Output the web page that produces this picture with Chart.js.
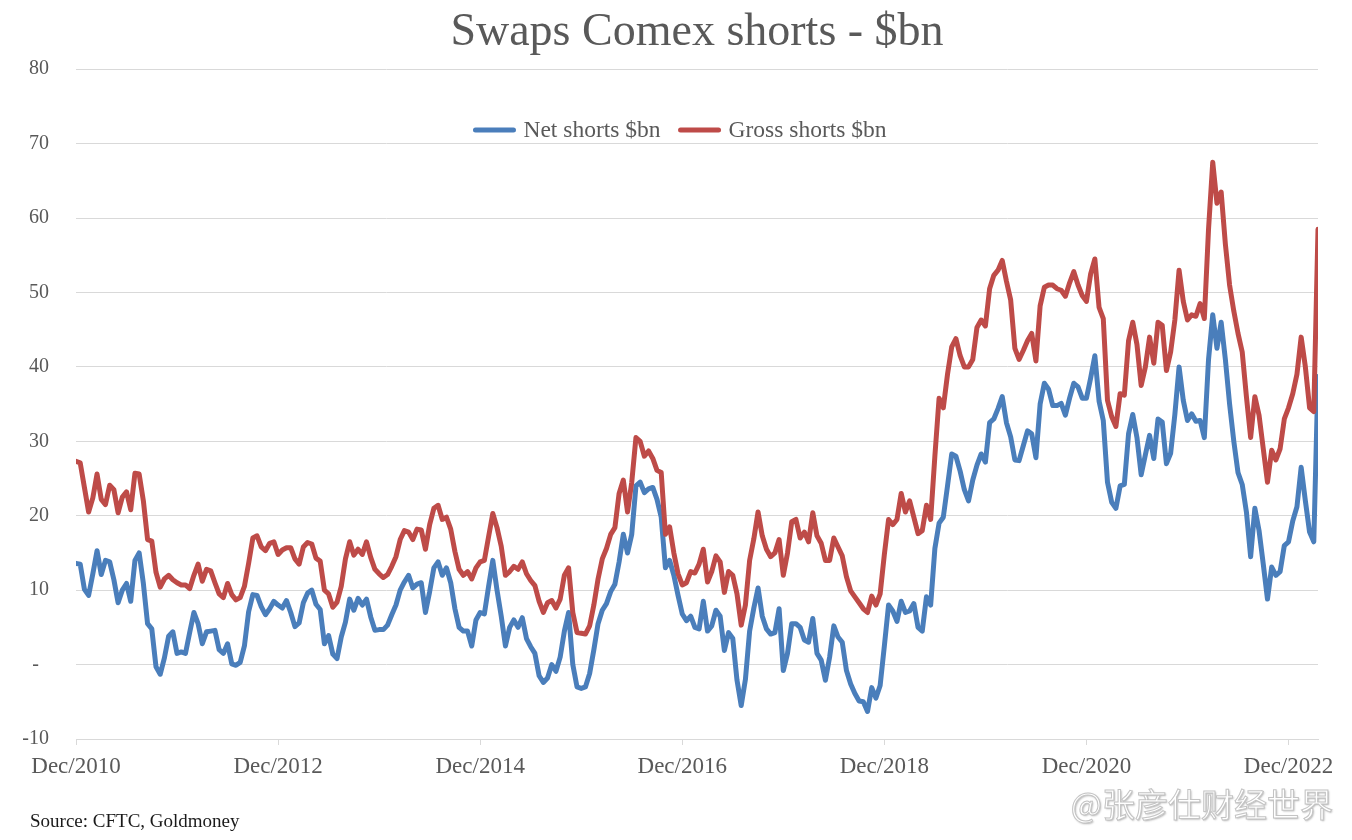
<!DOCTYPE html>
<html>
<head>
<meta charset="utf-8">
<script src="https://cdn.jsdelivr.net/npm/chart.js@4.4.1/dist/chart.umd.min.js"></script>
<style>
    body { margin: 0; background: #ffffff; }
    #wrap { position: relative; width: 1352px; height: 840px; }
    #source { position: absolute; left: 30px; top: 810px; font-family: "Liberation Serif", serif; font-size: 19px; color: #1a1a1a; }
    #mark { position: absolute; right: 19px; top: 787px; font-family: "Noto Sans CJK SC", sans-serif; font-size: 33px; line-height: 1; color: #ffffff; -webkit-text-stroke: 1px #c4c4c4; text-shadow: 1px 1px 2px #b0b0b0; }
</style>
</head>
<body>
<div id="wrap">
    <canvas id="comexChart" width="1352" height="840"></canvas>
    <div id="source">Source: CFTC, Goldmoney</div>
    <div id="mark">@张彦仕财经世界</div>
</div>
<script>
// semi-monthly readings starting Dec 2010
const samplesPerYear = 24;

const tickLabels = ["Dec/2010", "Dec/2012", "Dec/2014", "Dec/2016", "Dec/2018", "Dec/2020", "Dec/2022"];

const netShorts = [
    13.6, 13.5, 10.1, 9.3, 12.2, 15.3, 12.1, 14.0, 13.8, 11.4,
    8.3, 10.0, 10.9, 8.5, 14.0, 15.0, 10.9, 5.5, 4.8, -0.3,
    -1.3, 0.9, 3.8, 4.4, 1.5, 1.7, 1.5, 4.3, 7.0, 5.5,
    2.8, 4.4, 4.5, 4.6, 2.0, 1.5, 2.8, 0.1, -0.1, 0.3,
    2.5, 7.1, 9.4, 9.3, 7.8, 6.7, 7.5, 8.5, 8.0, 7.6,
    8.6,
    7.0, 5.1, 5.6, 8.3, 9.6, 10.0, 8.1, 7.4, 2.8, 3.9,
    1.4, 0.8, 3.7, 5.7, 8.8, 7.3, 8.9, 8.0, 8.8, 6.4,
    4.6, 4.7, 4.7, 5.3, 6.7, 8.0, 10.0, 11.1, 12.0, 10.3,
    10.8, 11.0, 7.0, 9.8, 13.0, 13.8, 12.0, 13.0, 11.0, 7.5,
    5.0, 4.5, 4.5, 2.5, 6.0, 7.0, 6.8,
    10.5, 14.0, 10.0, 6.5, 2.5, 5.0, 6.0, 5.0, 6.3, 3.5,
    2.4, 1.5, -1.5, -2.4, -1.8, 0.0, -0.9, 1.0, 4.5, 7.0,
    0.0, -3.0, -3.2, -3.0, -1.2, 2.0, 5.5, 7.3, 8.2, 9.8,
    10.8, 13.8, 17.5, 15.0, 17.5, 24.0, 24.5, 23.1, 23.6, 23.8,
    22.2, 19.8, 13.0, 14.0, 12.0, 9.3, 6.8, 5.9, 6.5,
    5.0, 4.8, 8.5, 4.5, 5.2, 7.3, 6.5, 1.9, 4.3, 3.5,
    -2.1, -5.5, -2.0, 4.5, 7.6, 10.3, 6.5, 4.8, 4.1, 4.3,
    7.5, -0.8, 1.5, 5.5, 5.5, 5.0, 3.3, 3.0, 6.2, 1.5,
    0.6, -2.1, 1.0, 5.2, 3.7, 3.0, -0.8, -2.6, -3.9, -4.9,
    -5.0, -6.3, -3.1, -4.5, -2.8, 2.5, 8.0,
    7.2, 5.8, 8.5, 7.0, 7.2, 8.2, 5.0, 4.5, 9.1, 8.0,
    15.6, 19.0, 19.8, 24.0, 28.3, 28.0, 26.0, 23.5, 22.0, 24.8,
    26.8, 28.3, 27.2, 32.5, 33.0, 34.4, 36.0, 32.5, 30.6, 27.5,
    27.4, 29.4, 31.4, 31.0, 27.8, 35.0, 37.8, 37.0, 34.8, 34.8,
    35.1, 33.5, 35.8, 37.8, 37.3, 35.8, 35.8, 38.5,
    41.5, 35.4, 32.8, 24.5, 21.8, 21.0, 24.0, 24.2, 31.0, 33.6,
    30.5, 25.5, 28.2, 30.8, 27.7, 33.0, 32.6, 27.0, 28.4, 33.6,
    40.0, 35.5, 32.8, 33.7, 32.7, 32.8, 30.5, 41.0, 47.0, 42.5,
    46.0, 41.0, 35.0, 30.0, 25.8, 24.2, 20.5, 14.5, 21.0, 18.0,
    13.5, 8.8, 13.1, 12.0, 12.5, 16.0, 16.5, 19.3, 21.2, 26.5,
    22.0, 17.8, 16.5, 38.7
];

const grossShorts = [
    27.3, 27.1, 23.8, 20.5, 22.4, 25.6, 22.2, 21.5, 24.1, 23.5,
    20.4, 22.5, 23.2, 20.8, 25.7, 25.6, 22.0, 16.8, 16.6, 12.4,
    10.4, 11.5, 12.0, 11.4, 11.0, 10.7, 10.7, 10.2, 12.0, 13.5,
    11.2, 12.8, 12.6, 11.0, 9.5, 9.0, 10.9, 9.4, 8.7, 9.0,
    10.5, 13.6, 17.0, 17.3, 15.8, 15.3, 16.3, 16.5, 14.8, 15.4,
    15.7,
    15.7, 14.2, 13.5, 15.8, 16.4, 16.2, 14.3, 13.9, 10.0, 9.5,
    7.7, 8.4, 10.5, 14.2, 16.5, 14.7, 15.5, 14.8, 16.5, 14.4,
    12.8, 12.2, 11.7, 12.1, 13.2, 14.5, 16.8, 18.0, 17.8, 16.8,
    18.2, 18.1, 15.5, 18.8, 21.0, 21.4, 19.5, 19.8, 18.2, 15.2,
    12.8, 12.0, 12.5, 11.5, 13.0, 13.8, 14.0,
    17.2, 20.3, 18.4, 15.9, 12.0, 12.5, 13.2, 12.8, 13.8, 12.2,
    11.3, 10.6, 8.5, 7.0, 8.3, 8.6, 7.6, 8.8, 12.0, 13.0,
    7.0, 4.3, 4.2, 4.1, 5.2, 8.0, 11.5, 14.2, 15.6, 17.5,
    18.4, 23.0, 24.8, 20.5, 24.5, 30.5, 30.0, 28.0, 28.7, 27.7,
    26.1, 25.8, 17.5, 18.5, 15.0, 12.2, 10.7, 11.0, 12.5,
    12.3, 13.5, 15.5, 11.1, 12.5, 14.6, 13.8, 9.7, 12.5, 12.0,
    9.5, 5.3, 8.0, 14.0, 16.9, 20.5, 17.3, 15.5, 14.5, 15.0,
    16.8, 12.0, 15.0, 19.2, 19.5, 17.0, 17.8, 16.5, 20.4, 17.3,
    16.3, 14.0, 14.0, 17.0, 15.8, 14.6, 11.8, 9.9, 9.1, 8.3,
    7.5, 7.0, 9.2, 8.0, 9.5, 14.8, 19.5,
    18.8, 19.5, 23.0, 20.5, 22.0, 19.8, 17.6, 18.0, 21.4, 19.5,
    28.0, 35.8, 34.5, 39.0, 42.7, 43.8, 41.5, 40.0, 40.0, 41.0,
    45.3, 46.3, 45.5, 50.5, 52.3, 53.0, 54.3, 51.5, 49.0, 42.5,
    41.0, 42.2, 43.5, 44.5, 40.8, 48.2, 50.7, 51.0, 51.0, 50.5,
    50.3, 49.5, 51.3, 52.8, 51.0, 49.6, 48.8, 52.5,
    54.5, 48.0, 46.5, 35.5, 33.3, 32.0, 36.4, 36.2, 43.5, 46.0,
    43.0, 37.5, 40.0, 44.0, 40.5, 46.0, 45.6, 39.5, 42.0, 46.3,
    53.0, 48.8, 46.3, 47.0, 46.8, 48.5, 46.5, 58.5, 67.5, 62.0,
    63.5, 56.5, 51.0, 47.5, 44.5, 42.0, 36.0, 30.5, 36.0, 33.5,
    29.0, 24.5, 28.8, 27.5, 29.0, 33.0, 34.5, 36.4, 39.0, 44.0,
    40.0, 34.5, 34.0, 58.5
];

function toPoints(values) {
    return values.map((v, i) => ({ x: i / samplesPerYear, y: v }));
}

const textGrey = "#595959";
const serif = "'Liberation Serif', 'Times New Roman', serif";

// legend sits inside the plot area in the original
const insideLegend = {
    id: "insideLegend",
    afterDraw(chart) {
        const ctx = chart.ctx;
        const lineLen = 42, gap = 8, spacing = 18;
        ctx.save();
        ctx.font = "23.5px " + serif;
        let total = 0;
        chart.data.datasets.forEach((ds, k) => {
            total += lineLen + gap + ctx.measureText(ds.label).width;
            if (k > 0) total += spacing;
        });
        let x = chart.width / 2 + 4 - total / 2;
        const y = 130;
        chart.data.datasets.forEach(ds => {
            ctx.strokeStyle = ds.borderColor;
            ctx.lineWidth = 5;
            ctx.lineCap = "round";
            ctx.beginPath();
            ctx.moveTo(x + 2, y);
            ctx.lineTo(x + lineLen - 2, y);
            ctx.stroke();
            x += lineLen + gap;
            ctx.fillStyle = textGrey;
            ctx.textBaseline = "middle";
            ctx.textAlign = "left";
            ctx.fillText(ds.label, x, y + 1);
            x += ctx.measureText(ds.label).width + spacing;
        });
        ctx.restore();
    }
};

const ctx = document.getElementById("comexChart").getContext("2d");

new Chart(ctx, {
    type: "line",
    data: {
        datasets: [{
            label: "Net shorts $bn",
            data: toPoints(netShorts),
            borderColor: "#4A7EBB",
            borderWidth: 5,
            pointRadius: 0,
            tension: 0,
            borderJoinStyle: "round",
            borderCapStyle: "round",
            order: 1
        }, {
            label: "Gross shorts $bn",
            data: toPoints(grossShorts),
            borderColor: "#BE4B48",
            borderWidth: 5,
            pointRadius: 0,
            tension: 0,
            borderJoinStyle: "round",
            borderCapStyle: "round",
            order: 0
        }]
    },
    options: {
        responsive: false,
        animation: false,
        layout: { padding: { left: 0, right: 34, top: 0, bottom: 0 } },
        plugins: {
            legend: { display: false },
            tooltip: { enabled: false },
            title: {
                display: true,
                text: "Swaps Comex shorts - $bn",
                fullSize: false,
                color: textGrey,
                font: { family: serif, size: 46, weight: "normal" },
                padding: { top: 5, bottom: 9 }
            }
        },
        scales: {
            x: {
                type: "linear",
                min: 0,
                max: (netShorts.length - 1) / samplesPerYear,
                afterBuildTicks: scale => {
                    scale.ticks = tickLabels.map((_, k) => ({ value: k * 2 }));
                },
                afterFit: scale => { scale.height = 101; },
                grid: {
                    drawOnChartArea: false,
                    drawTicks: true,
                    tickLength: 6,
                    color: "#d9d9d9"
                },
                border: { display: true, color: "#d9d9d9" },
                ticks: {
                    autoSkip: false,
                    maxRotation: 0,
                    padding: 8,
                    color: textGrey,
                    font: { family: serif, size: 23 },
                    callback: (value, index) => tickLabels[index]
                }
            },
            y: {
                min: -10,
                max: 80,
                afterFit: scale => { scale.width = 76; },
                grid: { color: "#d9d9d9", drawTicks: false },
                border: { display: false },
                ticks: {
                    stepSize: 10,
                    padding: 27,
                    color: textGrey,
                    font: { family: serif, size: 20 },
                    callback: value => value === 0 ? "-  " : value
                }
            }
        }
    },
    plugins: [insideLegend]
});
</script>
</body>
</html>
